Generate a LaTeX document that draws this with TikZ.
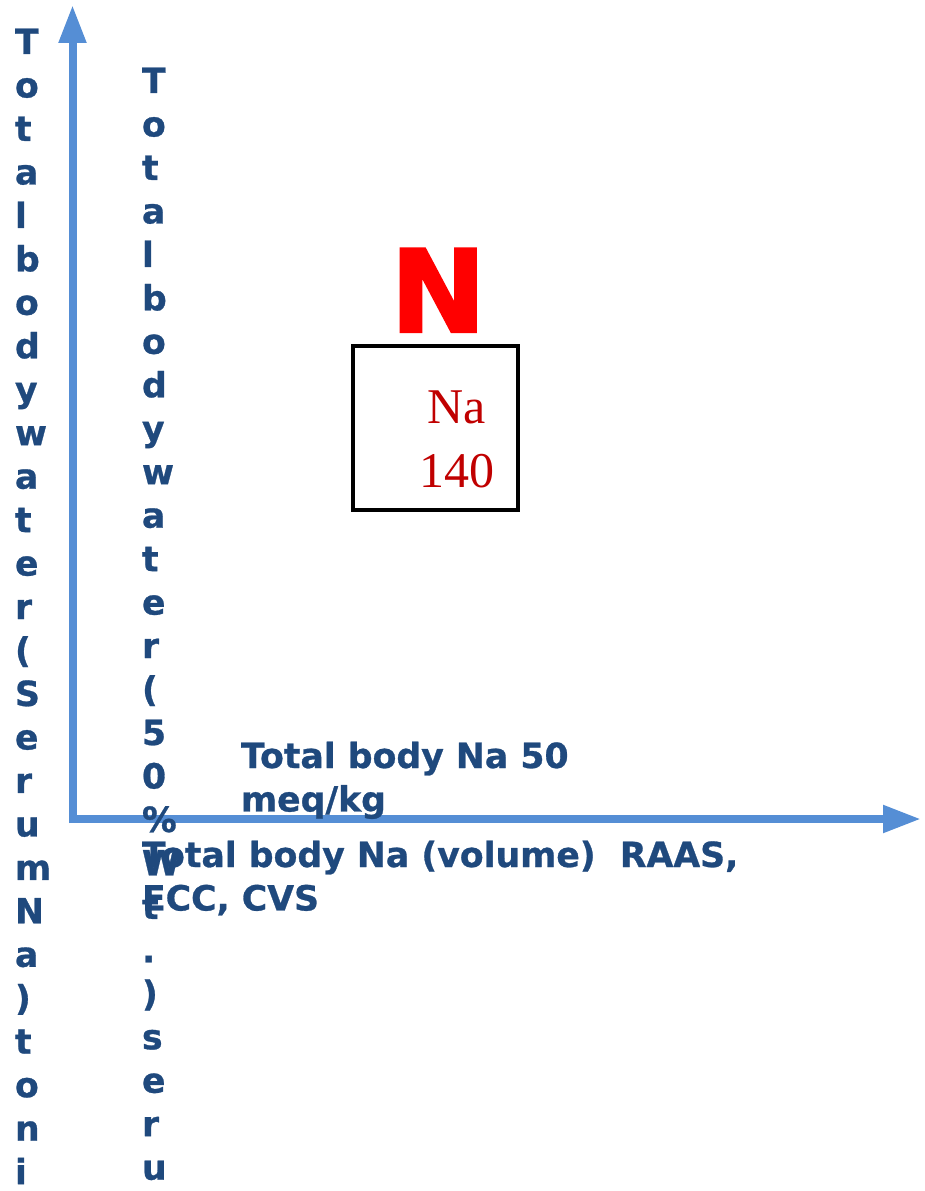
\documentclass[tikz,border=0pt]{standalone}
\usepackage{fontspec}
\newfontfamily\djv{DejaVu Sans}[BoldFeatures={FakeBold=0.8}]
\newfontfamily\djvN{DejaVu Sans}[BoldFeatures={FakeBold=2}]
\newfontfamily\libser{Liberation Serif}
\usetikzlibrary{arrows.meta}
\definecolor{axisblue}{RGB}{85,142,213}
\definecolor{txtblue}{RGB}{31,73,125}
\definecolor{nared}{RGB}{192,0,0}
\newcommand\lblfont{\djv\bfseries\fontsize{26}{32.6}\selectfont}
\begin{document}
\begin{tikzpicture}[x=0.75pt,y=-0.75pt,
  axis/.style={draw=axisblue,line width=6pt,-{Triangle[length=28.5pt,width=19.5pt]}},
  lbl/.style={inner sep=0pt,outer sep=0pt,text=txtblue,anchor=base west},
  boxstyle/.style={draw=black,line width=2.6pt,minimum width=123.75pt,minimum height=123pt,inner sep=0pt}]
\useasboundingbox (0,0) rectangle (924,1191);
% axes
\coordinate (corner) at (72.5,823);
\coordinate (origin) at (72.5,819);
\coordinate (ytip) at (72.5,5);
\coordinate (xtip) at (921,819);
\draw[axis] (corner) -- (ytip);
\draw[axis] (origin) -- (xtip);
% vertical labels
\node[lbl] (ylabA) at (15,54) {\parbox[t]{60pt}{\lblfont\raggedright T\\o\\t\\a\\l\\b\\o\\d\\y\\w\\a\\t\\e\\r\\(\\S\\e\\r\\u\\m\\N\\a\\)\\t\\o\\n\\i}};
\node[lbl] (ylabB) at (142,93) {\parbox[t]{60pt}{\lblfont\raggedright T\\o\\t\\a\\l\\b\\o\\d\\y\\w\\a\\t\\e\\r\\(\\5\\0\\\%\\W\\t\\.\\)\\s\\e\\r\\u}};
% horizontal labels
\node[lbl] (xlabA) at (241,768) {\parbox[t]{400pt}{\lblfont\raggedright Total body Na 50\\meq/kg}};
\node[lbl] (xlabB) at (142,867) {\parbox[t]{500pt}{\lblfont\raggedright Total body Na (volume)\ \ RAAS,\\ECC, CVS}};
% big N
\node[inner sep=0pt,anchor=base west,text=red,font=\djvN\bfseries\fontsize{86}{90}\selectfont] (bigN) at (390,332) {N};
% box
\node[boxstyle] (box) at (435.5,428) {};
\node[inner sep=0pt,anchor=base,text=nared] (natext) at (457,423) {\parbox[t]{100pt}{\libser\fontsize{37.5}{48}\selectfont\centering Na\\140}};
\end{tikzpicture}
\end{document}
